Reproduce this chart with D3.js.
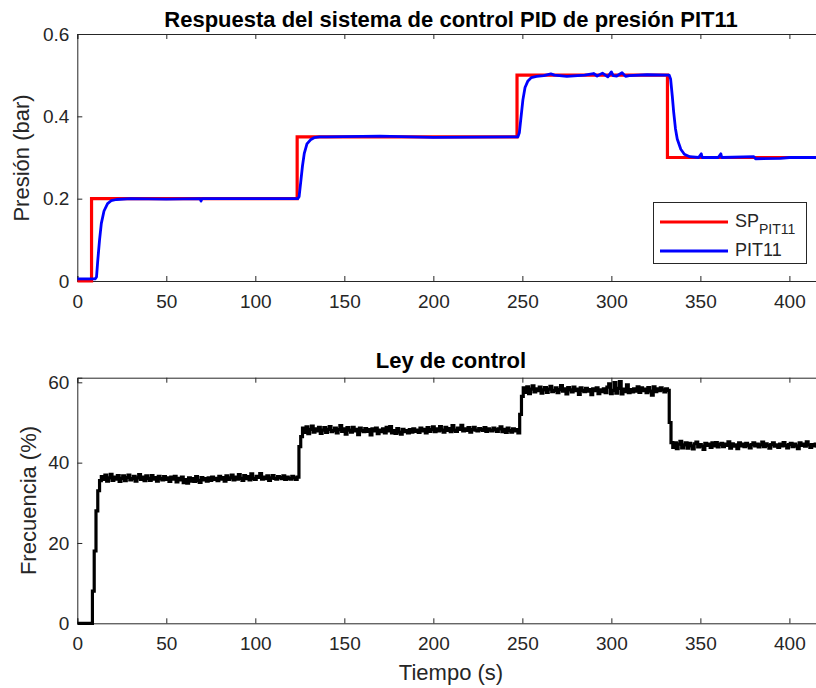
<!DOCTYPE html>
<html>
<meta charset="utf-8">
<head>
  <title>Respuesta PID PIT11</title>
</head>

<style>
body {
  margin: 0;
  background: #fff;
}
svg {
  display: block;
  font-family: "Liberation Sans", Arial, Helvetica, sans-serif;
}
.axis path, .axis line {
  stroke: #262626;
}
.axis text {
  fill: #262626;
  font-size: 19px;
}
.title {
  font-weight: bold;
  font-size: 22px;
  fill: #000;
  text-anchor: middle;
}
.label {
  font-size: 22px;
  fill: #262626;
  text-anchor: middle;
}
</style>

<body>
  <svg width="816" height="688"></svg>

  <script src="https://cdnjs.cloudflare.com/ajax/libs/d3/7.8.5/d3.min.js"></script>

  <script>
var width = 816, height = 688

// x ticks (s), shared by both plots
var timeTicks = [0, 50, 100, 150, 200, 250, 300, 350, 400]
var presTicks = [0, 0.2, 0.4, 0.6]
var freqTicks = [0, 20, 40, 60]

// set point SP_PIT11: step times and levels
var spTimes = [0, 8, 123.5, 247, 331.5, 420]
var spLevels = [0, 0.2, 0.35, 0.5, 0.3, 0.3]

// measured pressure PIT11 (time, bar)
var pitTimes = [0, 10, 10.8, 11.5, 12.5, 13.5, 15, 17, 19, 22, 30, 50, 69, 69.5, 70, 100, 123.8,
  124.6, 125.5, 126.5, 127.5, 129, 131, 133, 136, 140, 170, 200, 247.5,
  248.3, 249.3, 250.3, 251.5, 253, 255, 258, 262, 266, 268, 275, 285, 290, 292,
  295, 298, 300, 301, 303, 306, 308, 310, 320, 332.5,
  333.3, 334.2, 335, 336, 337, 339, 341, 344, 349, 350.5, 351, 360, 361.5, 362, 380, 381, 395, 400, 418]
var pitValues = [0.005, 0.005, 0.01, 0.05, 0.1, 0.14, 0.17, 0.188, 0.195, 0.198, 0.2, 0.199, 0.2, 0.194, 0.2, 0.2, 0.2,
  0.205, 0.24, 0.28, 0.31, 0.333, 0.343, 0.348, 0.35, 0.35, 0.352, 0.349, 0.35,
  0.36, 0.4, 0.44, 0.47, 0.485, 0.494, 0.497, 0.499, 0.503, 0.5, 0.497, 0.5, 0.504, 0.498,
  0.505, 0.496, 0.508, 0.499, 0.498, 0.506, 0.497, 0.499, 0.501, 0.5,
  0.49, 0.45, 0.41, 0.37, 0.345, 0.32, 0.308, 0.302, 0.3, 0.309, 0.3, 0.3, 0.309, 0.3, 0.302, 0.297, 0.298, 0.3, 0.3]

// control law (frequency %), one sample per second starting at t = 0
var uValues = [
  0, 0, 0, 0, 0, 0, 0, 0, 0, 8, 18, 28, 33, 35.5,
  36.5, 35.8, 36.9, 35.4, 36.2, 37.1, 35.6, 36.4, 35.9, 36.8, 35.3, 36.1, 36.7, 35.5, 36.3, 36.9, 35.7, 36.0, 36.6, 35.4,
  36.2, 37.0, 35.8, 36.4, 35.5, 36.7, 36.1, 35.6, 36.8, 35.9, 36.3, 35.4, 36.6, 36.0, 35.7, 36.5, 35.8, 36.2, 35.3, 36.4,
  35.9, 36.6, 35.2, 36.1, 35.7, 36.4, 35.0, 35.8, 34.9, 36.2, 35.4, 36.0, 35.3, 36.5, 35.6, 35.1, 36.3, 35.7, 36.0, 35.4,
  36.2, 35.6, 36.4, 35.8, 36.1, 35.5, 36.6, 35.9, 36.3, 35.4, 36.7, 35.8, 36.2, 36.9, 35.7, 36.4, 35.9, 37.0, 36.1, 35.6,
  36.8, 36.0, 36.5, 35.7, 37.2, 36.1, 35.8, 36.6, 36.3, 37.3, 35.9, 36.4, 36.0, 36.7, 35.6, 36.2, 36.8, 36.1, 35.9, 36.5,
  36.3, 36.0, 36.7, 35.8, 36.4, 36.1, 35.9, 36.6, 36.2, 35.8, 36.4,
  44, 46.5,
  48.6, 47.5, 48.9, 47.2, 48.3, 49.1, 47.6, 48.4, 47.9, 48.8, 47.3, 48.1, 48.7, 47.5, 48.3, 49.0, 47.7, 48.0, 48.6, 47.4,
  48.2, 49.2, 47.8, 48.4, 47.1, 48.7, 48.1, 47.6, 48.8, 47.9, 48.3, 47.0, 48.6, 48.0, 47.7, 48.5, 47.8, 48.2, 46.9, 48.4,
  47.9, 48.6, 47.2, 48.1, 47.7, 48.4, 47.4, 48.8, 47.9, 49.0, 47.4, 48.0, 47.3, 48.5, 47.6, 47.1, 48.3, 47.7, 48.0, 47.4,
  48.2, 47.6, 48.4, 47.8, 48.1, 47.5, 48.6, 47.9, 48.3, 47.4, 48.7, 47.8, 48.2, 48.9, 47.7, 48.4, 47.9, 49.0, 48.1, 47.6,
  48.8, 48.0, 48.5, 47.7, 49.2, 48.1, 47.8, 48.6, 48.3, 49.3, 47.9, 48.4, 48.0, 48.7, 47.6, 48.2, 48.8, 48.1, 47.9, 48.5,
  48.3, 48.0, 48.7, 47.8, 48.4, 48.1, 47.9, 48.6, 48.2, 47.8, 48.4, 48.9, 47.7, 48.3, 47.5, 48.6, 48.0, 47.6, 48.4, 47.9,
  48.2, 47.4,
  52, 56.5,
  58.6, 57.5, 58.9, 57.2, 58.3, 59.1, 57.6, 58.4, 57.9, 58.8, 57.3, 58.1, 58.7, 57.5, 58.3, 59.0, 57.7, 58.0, 58.6, 57.4,
  58.2, 59.2, 57.8, 58.4, 57.1, 58.7, 58.1, 57.6, 58.8, 57.9, 58.3, 57.0, 58.6, 58.0, 57.7, 58.5, 57.8, 58.2, 56.9, 58.4,
  57.9, 58.6, 57.2, 58.1, 57.7, 58.4, 57.4, 58.8, 59.6, 57.2, 58.0, 59.9, 57.3, 58.5, 60.2, 57.1, 58.3, 57.7, 59.4, 57.4,
  58.2, 57.6, 58.4, 57.8, 58.9, 57.5, 58.6, 57.9, 58.3, 57.4, 58.7, 57.8, 56.8, 58.9, 57.7, 58.4, 57.9, 58.6, 58.1, 57.6,
  58.4, 58.0,
  50, 45,
  43.8, 44.9, 43.5, 44.6, 45.3, 43.7, 44.4, 44.9, 43.6, 44.8, 44.2, 43.4, 44.7, 45.1, 43.9, 44.5, 44.1, 43.3, 44.8, 44.3,
  44.6, 43.8, 44.9, 44.2, 45.0, 43.9, 44.5, 44.8, 44.0, 44.6, 44.3, 45.2, 43.6, 44.7, 44.1, 44.4, 43.5, 44.9, 44.2, 44.6,
  44.0, 44.8, 44.3, 43.7, 44.5, 44.9, 44.2, 44.6, 43.9, 44.4, 45.1, 44.0, 44.7, 44.3, 43.6, 44.5, 44.9, 44.1, 44.4, 43.8,
  44.6, 44.2, 45.0, 44.3, 43.7, 44.5, 44.8, 44.0, 44.6, 44.2, 43.5, 44.9, 44.3, 44.6, 44.1, 45.2, 44.4, 43.8, 44.5, 44.2,
  44.6, 44.1, 44.5
]
var uStep = 1

var svg = d3.select('svg')

var x = d3.scaleLinear().domain([0, 420]).range([77.3, 825])
var yTop = d3.scaleLinear().domain([0, 0.6]).range([281, 34])
var yBot = d3.scaleLinear().domain([0, 61.15]).range([623.3, 377.7])

function drawAxes(y, yticks, yfmt, top, bottom, id) {
  var g = svg.append('g')
  // clip for the lines
  svg.append('clipPath').attr('id', id)
    .append('rect')
    .attr('x', x.range()[0]).attr('y', top - 4)
    .attr('width', x.range()[1] - x.range()[0]).attr('height', bottom - top + 8)

  g.append('g').attr('class', 'axis')
    .attr('transform', 'translate(0,' + bottom + ')')
    .call(d3.axisBottom(x).tickValues(timeTicks).tickSize(-5).tickPadding(13.5).tickFormat(d3.format('d')))
  g.append('g').attr('class', 'axis')
    .attr('transform', 'translate(0,' + top + ')')
    .call(d3.axisTop(x).tickValues(timeTicks).tickSize(-5).tickFormat(''))
  g.append('g').attr('class', 'axis')
    .attr('transform', 'translate(' + x.range()[0] + ',0)')
    .call(d3.axisLeft(y).tickValues(yticks).tickSize(-5).tickPadding(8).tickFormat(yfmt))
  return g
}

var gTop = drawAxes(yTop, presTicks, function(d) { return d === 0 ? '0' : d3.format('.1f')(d) }, 34, 281, 'clipTop')
var gBot = drawAxes(yBot, freqTicks, d3.format('d'), 377.7, 623.3, 'clipBot')

// top plot lines
var spLine = d3.line()
  .x(function(d, i) { return x(spTimes[i]) })
  .y(function(d) { return yTop(d) })
  .curve(d3.curveStepAfter)

svg.append('path')
  .attr('clip-path', 'url(#clipTop)')
  .attr('d', spLine(spLevels))
  .attr('fill', 'none')
  .attr('stroke', '#ff0000')
  .attr('stroke-width', 3.2)

var pitLine = d3.line()
  .x(function(d, i) { return x(pitTimes[i]) })
  .y(function(d) { return yTop(d) })

svg.append('path')
  .attr('clip-path', 'url(#clipTop)')
  .attr('d', pitLine(pitValues))
  .attr('fill', 'none')
  .attr('stroke', '#0000ff')
  .attr('stroke-width', 2.8)
  .attr('stroke-linejoin', 'round')

// bottom plot line
var uLine = d3.line()
  .x(function(d, i) { return x(i * uStep) })
  .y(function(d) { return yBot(d) })
  .curve(d3.curveStep)

svg.append('path')
  .attr('clip-path', 'url(#clipBot)')
  .attr('d', uLine(uValues))
  .attr('fill', 'none')
  .attr('stroke', '#000')
  .attr('stroke-width', 3.2)

// titles and labels
svg.append('text').attr('class', 'title').attr('x', 451).attr('y', 27)
  .text('Respuesta del sistema de control PID de presión PIT11')
svg.append('text').attr('class', 'title').attr('x', 451).attr('y', 368)
  .text('Ley de control')
svg.append('text').attr('class', 'label')
  .attr('transform', 'translate(29,158) rotate(-90)')
  .text('Presión (bar)')
svg.append('text').attr('class', 'label')
  .attr('transform', 'translate(36,500.5) rotate(-90)')
  .text('Frecuencia (%)')
svg.append('text').attr('class', 'label').attr('x', 451).attr('y', 680)
  .text('Tiempo (s)')

// legend
var legend = svg.append('g')
legend.append('rect')
  .attr('x', 653.5).attr('y', 202.5).attr('width', 153).attr('height', 61)
  .attr('fill', '#fff').attr('stroke', '#262626').attr('stroke-width', 1)
var legendItems = [
  {name: 'SP', sub: 'PIT11', color: '#ff0000', y: 222},
  {name: 'PIT11', sub: '', color: '#0000ff', y: 251}
]
legendItems.forEach(function(d) {
  legend.append('line')
    .attr('x1', 660).attr('x2', 728).attr('y1', d.y).attr('y2', d.y)
    .attr('stroke', d.color).attr('stroke-width', 2.8)
  var t = legend.append('text')
    .attr('x', 735).attr('y', d.y + 4.5)
    .attr('fill', '#262626').style('font-size', '18px')
    .text(d.name)
  if (d.sub) {
    t.append('tspan').attr('dy', 7).style('font-size', '14px').text(d.sub)
  }
})
  </script>
</body>
</html>
